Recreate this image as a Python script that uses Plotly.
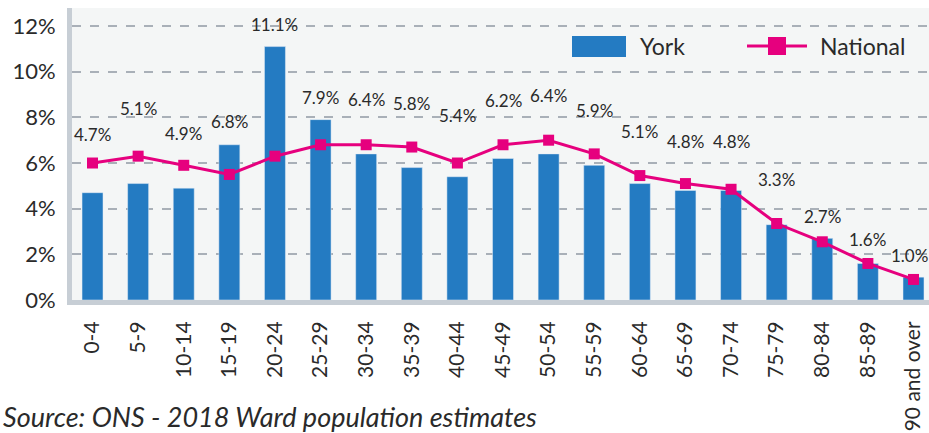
import plotly.graph_objects as go

categories = ["0-4", "5-9", "10-14", "15-19", "20-24", "25-29", "30-34", "35-39",
              "40-44", "45-49", "50-54", "55-59", "60-64", "65-69", "70-74",
              "75-79", "80-84", "85-89", "90 and over"]
york = [4.7, 5.1, 4.9, 6.8, 11.1, 7.9, 6.4, 5.8, 5.4, 6.2, 6.4, 5.9, 5.1, 4.8, 4.8, 3.3, 2.7, 1.6, 1.0]
national = [6.0, 6.3, 5.9, 5.5, 6.3, 6.8, 6.8, 6.7, 6.0, 6.8, 7.0, 6.4, 5.45, 5.1, 4.85, 3.35, 2.55, 1.6, 0.9]
y_ticks = [0, 2, 4, 6, 8, 10, 12]
y_tick_labels = ["0%", "2%", "4%", "6%", "8%", "10%", "12%"]

# label heights (in % units) for York data labels
label_y = [7.23, 8.41, 7.31, 7.8, 12.05, 8.89, 8.8, 8.6, 8.06, 8.76, 8.94, 8.32,
           7.36, 6.96, 6.96, 5.26, 3.65, 2.63, 1.93]

FONT = "Lato, 'Open Sans', sans-serif"
TXT = "#2a2a2a"
BLUE = "#247bc2"
PINK = "#e6007e"

fig = go.Figure()
fig.add_trace(go.Bar(x=categories, y=york, name="York", marker_color=BLUE,
                     showlegend=False))
fig.add_trace(go.Scatter(x=categories, y=national, name="National", mode="lines+markers",
                         line=dict(color=PINK, width=3),
                         marker=dict(symbol="square", size=11, color=PINK),
                         showlegend=False))

n = len(categories)
for i, (c, v, ly) in enumerate(zip(categories, york, label_y)):
    fig.add_annotation(x=c, y=ly, xref="x", yref="y", text=f"{v:.1f}%",
                       showarrow=False, xshift=(-4 if i == n - 1 else 0),
                       font=dict(family=FONT, size=17, color=TXT))

# custom legend
W, H, L, T = 929, 433, 72, 8
PW, PH = W - L, 300 - T
def px(x):
    return (x - L) / PW
def py(y):
    return (300 - y) / PH

fig.add_shape(type="rect", xref="paper", yref="paper", x0=px(572), x1=px(626),
              y0=py(57), y1=py(36), fillcolor=BLUE, line=dict(width=0))
fig.add_annotation(xref="paper", yref="paper", x=px(638), y=py(46), xanchor="left",
                   yanchor="middle", text="York", showarrow=False,
                   font=dict(family=FONT, size=23, color=TXT))
fig.add_shape(type="line", xref="paper", yref="paper", x0=px(747), x1=px(807),
              y0=py(46), y1=py(46), line=dict(color=PINK, width=3))
fig.add_shape(type="rect", xref="paper", yref="paper", x0=px(768), x1=px(786),
              y0=py(55), y1=py(37), fillcolor=PINK, line=dict(width=0))
fig.add_annotation(xref="paper", yref="paper", x=px(818), y=py(46), xanchor="left",
                   yanchor="middle", text="National", showarrow=False,
                   font=dict(family=FONT, size=23, color=TXT))

fig.add_annotation(xref="paper", yref="paper", x=px(1), y=py(416), xanchor="left",
                   yanchor="middle", text="<i>Source: ONS - 2018 Ward population estimates</i>",
                   showarrow=False, font=dict(family=FONT, size=27, color=TXT))

fig.update_layout(
    width=W, height=H,
    margin=dict(l=L, r=0, t=T, b=H - 300),
    paper_bgcolor="white", plot_bgcolor="#f4f6f6",
    bargap=0.54,
    font=dict(family=FONT, color=TXT),
    showlegend=False,
)
fig.update_xaxes(range=[-0.45, 18.34], tickangle=-90, showline=True, linewidth=5,
                 linecolor="#c7ced5", ticks="", showgrid=False,
                 tickfont=dict(family=FONT, size=21, color=TXT), ticklabelstandoff=8)
fig.update_yaxes(range=[0, 12.79], tickmode="array", tickvals=y_ticks, ticktext=y_tick_labels,
                 showline=True,
                 linewidth=5, linecolor="#c7ced5", ticks="", zeroline=False,
                 showgrid=True, gridcolor="#a9b0b8", gridwidth=1.5, griddash="dash",
                 tickfont=dict(family=FONT, size=22, color=TXT), ticklabelstandoff=7)

fig.write_html("out.html", config={"displayModeBar": False},
               post_script="document.body.style.margin='0';document.body.style.padding='0';")
